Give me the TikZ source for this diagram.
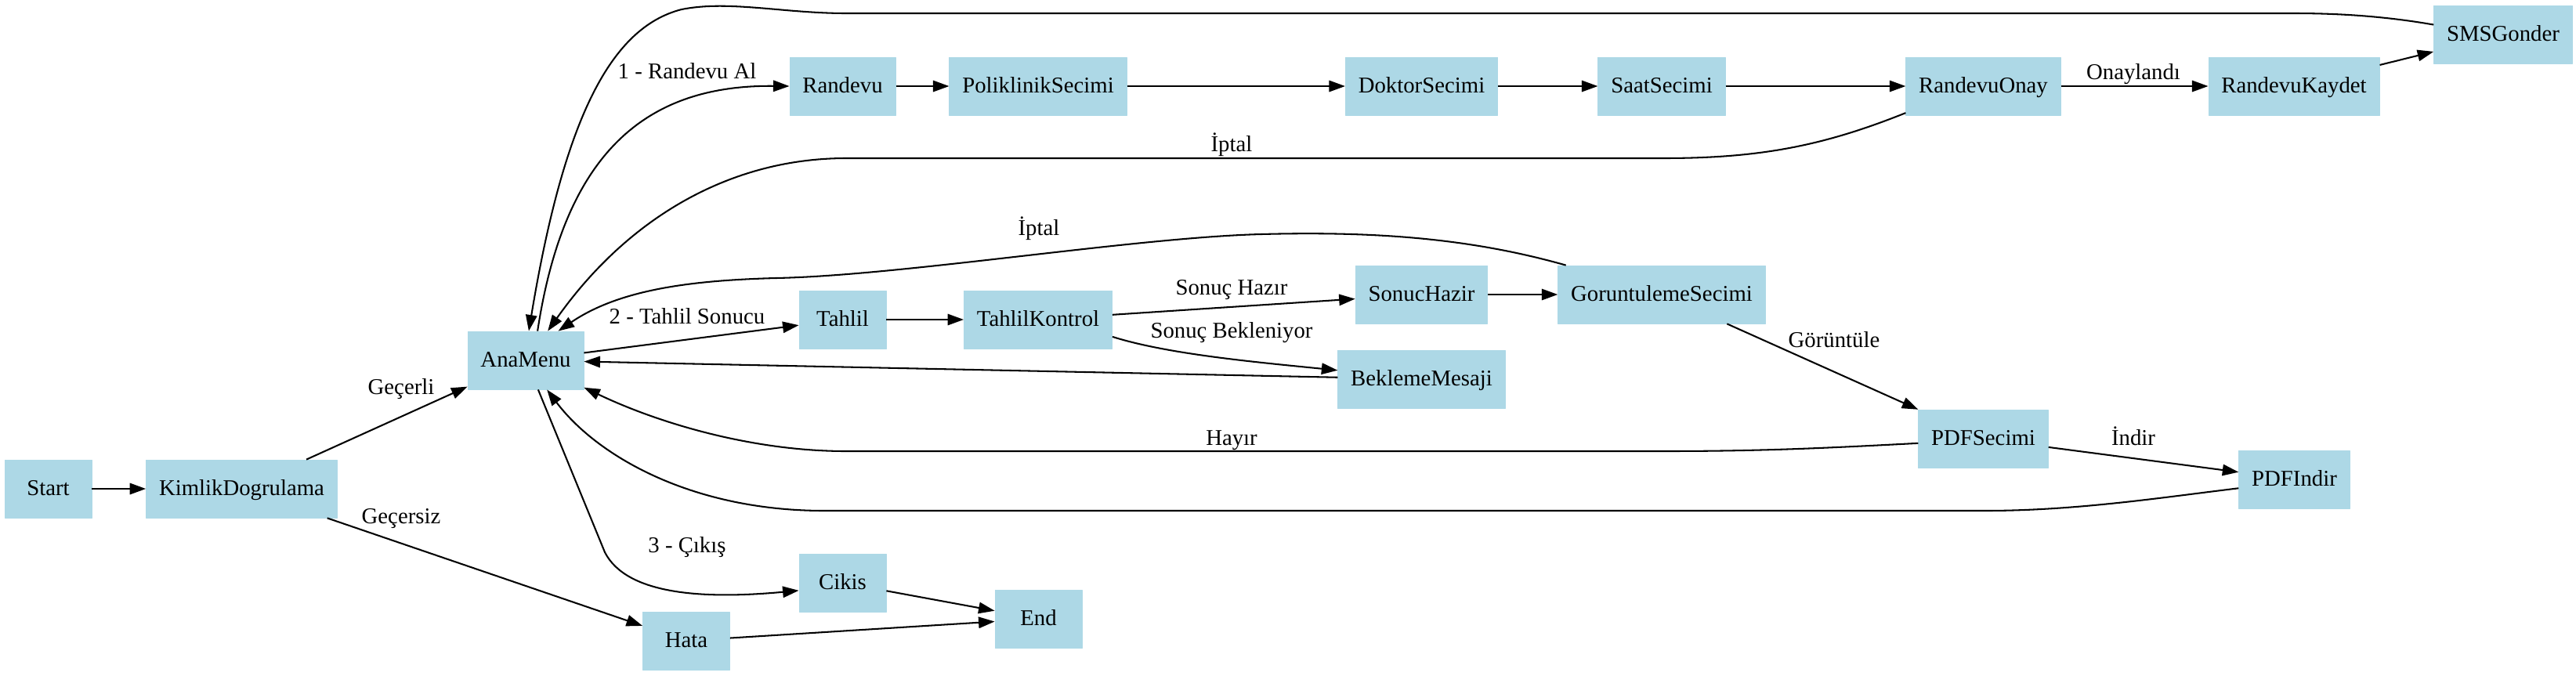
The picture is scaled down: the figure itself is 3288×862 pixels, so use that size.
\documentclass[tikz,border=0pt]{standalone}
\usepackage{fontspec}
\setmainfont{Liberation Serif}
\usetikzlibrary{arrows.meta}
\definecolor{nodeblue}{HTML}{ADD8E6}

\begin{document}
\begin{tikzpicture}[
    x=0.48662pt,
    y=-0.48662pt,
    >={Triangle[length=10pt,width=7pt]},
    line join=round,
    proc/.style={
        draw=nodeblue,
        fill=nodeblue,
        inner xsep=8pt,
        inner ysep=0pt,
        minimum width=54pt,
        minimum height=36pt,
        text height=10.5pt,
        text depth=2.1pt,
        font=\fontsize{14pt}{16pt}\selectfont
    },
    flow/.style={->,line width=1pt,black},
    tag/.style={
        inner sep=0pt,
        text height=10.5pt,
        text depth=2.1pt,
        font=\fontsize{14pt}{16pt}\selectfont
    }
]
\useasboundingbox (0,0) rectangle (3288,862);

\node[proc] (start) at (61.5,624) {Start};
\node[proc] (kimlik) at (308.5,624) {KimlikDogrulama};
\node[proc] (anamenu) at (671,460) {AnaMenu};
\node[proc] (hata) at (876,818) {Hata};
\node[proc] (cikis) at (1075.5,744) {Cikis};
\node[proc] (stop) at (1325.5,790) {End};

% Login.
\draw[flow] (start) -- (kimlik);
\draw[flow] (kimlik) -- (anamenu) node[tag] at (512,495) {Geçerli};
\draw[flow] (kimlik) -- (hata) node[tag] at (512,660) {Geçersiz};

% Appointment.
\node[proc] (randevu) at (1075.5,110) {Randevu};
\node[proc] (poliklinik) at (1325,110) {PoliklinikSecimi};
\node[proc] (doktor) at (1814.5,110) {DoktorSecimi};
\node[proc] (saat) at (2121,110) {SaatSecimi};
\node[proc] (onay) at (2531.5,110) {RandevuOnay};
\node[proc] (kaydet) at (2928,110) {RandevuKaydet};
\node[proc] (sms) at (3195,44) {SMSGonder};

\draw[flow] (anamenu.68) .. controls (720,200) and (820,108) .. (randevu.west)
    node[tag] at (877,92) {1 - Randevu Al};
\draw[flow] (randevu) -- (poliklinik);
\draw[flow] (poliklinik) -- (doktor);
\draw[flow] (doktor) -- (saat);
\draw[flow] (saat) -- (onay);
\draw[flow] (onay) -- (kaydet) node[tag] at (2723,93) {Onaylandı};
\draw[flow] (kaydet) -- (sms);
\draw[flow] (sms.172) .. controls (3040,20) and (2980,17) .. (2928,17) -- (1080,17)
    .. controls (1000,17) and (930,0) .. (870,12)
    .. controls (780,35) and (720,150) .. (anamenu.84);
\draw[flow] (onay.199) .. controls (2330,185) and (2250,202) .. (2123,202) -- (1080,202)
    .. controls (930,202) and (800,280) .. (anamenu.53)
    node[tag] at (1572,185) {İptal};

% Test results.
\node[proc] (tahlil) at (1075.5,408) {Tahlil};
\node[proc] (kontrol) at (1325,408) {TahlilKontrol};
\node[proc] (hazir) at (1814.5,376) {SonucHazir};
\node[proc] (bekleme) at (1814.5,484) {BeklemeMesaji};
\node[proc] (goruntuleme) at (2121,376) {GoruntulemeSecimi};
\node[proc] (pdfsecimi) at (2531.5,560) {PDFSecimi};
\node[proc] (pdfindir) at (2928.5,612) {PDFIndir};

\draw[flow] (anamenu) -- (tahlil) node[tag] at (877,405) {2 - Tahlil Sonucu};
\draw[flow] (tahlil) -- (kontrol);
\draw[flow] (kontrol) -- (hazir) node[tag] at (1572,368) {Sonuç Hazır};
\draw[flow] (kontrol.347) .. controls (1490,452) and (1600,462) .. (bekleme.174)
    node[tag] at (1572,423) {Sonuç Bekleniyor};
\draw[flow] (bekleme) -- (anamenu);
\draw[flow] (hazir) -- (goruntuleme);
\draw[flow] (goruntuleme.163) .. controls (1880,305) and (1760,295) .. (1610,299)
    .. controls (1450,303) and (1150,352) .. (990,355)
    .. controls (880,358) and (790,370) .. (anamenu.42)
    node[tag] at (1326,292) {İptal};
\draw[flow] (goruntuleme) -- (pdfsecimi) node[tag] at (2341,435) {Görüntüle};
\draw[flow] (pdfsecimi) -- (pdfindir) node[tag] at (2723,560) {İndir};
\draw[flow] (pdfsecimi.184) .. controls (2330,572) and (2250,576) .. (2123,576) -- (1080,576)
    .. controls (960,576) and (840,540) .. (anamenu.335)
    node[tag] at (1572,560) {Hayır};
\draw[flow] (pdfindir.189) .. controls (2760,635) and (2650,652) .. (2534,652) -- (1052,652)
    .. controls (880,652) and (760,580) .. (anamenu.306);

% Exit.
\draw[flow] (anamenu.293) -- (772,705) .. controls (800,760) and (900,765) .. (cikis.190)
    node[tag] at (877,697) {3 - Çıkış};
\draw[flow] (cikis) -- (stop);
\draw[flow] (hata) -- (stop);

\end{tikzpicture}
\end{document}
